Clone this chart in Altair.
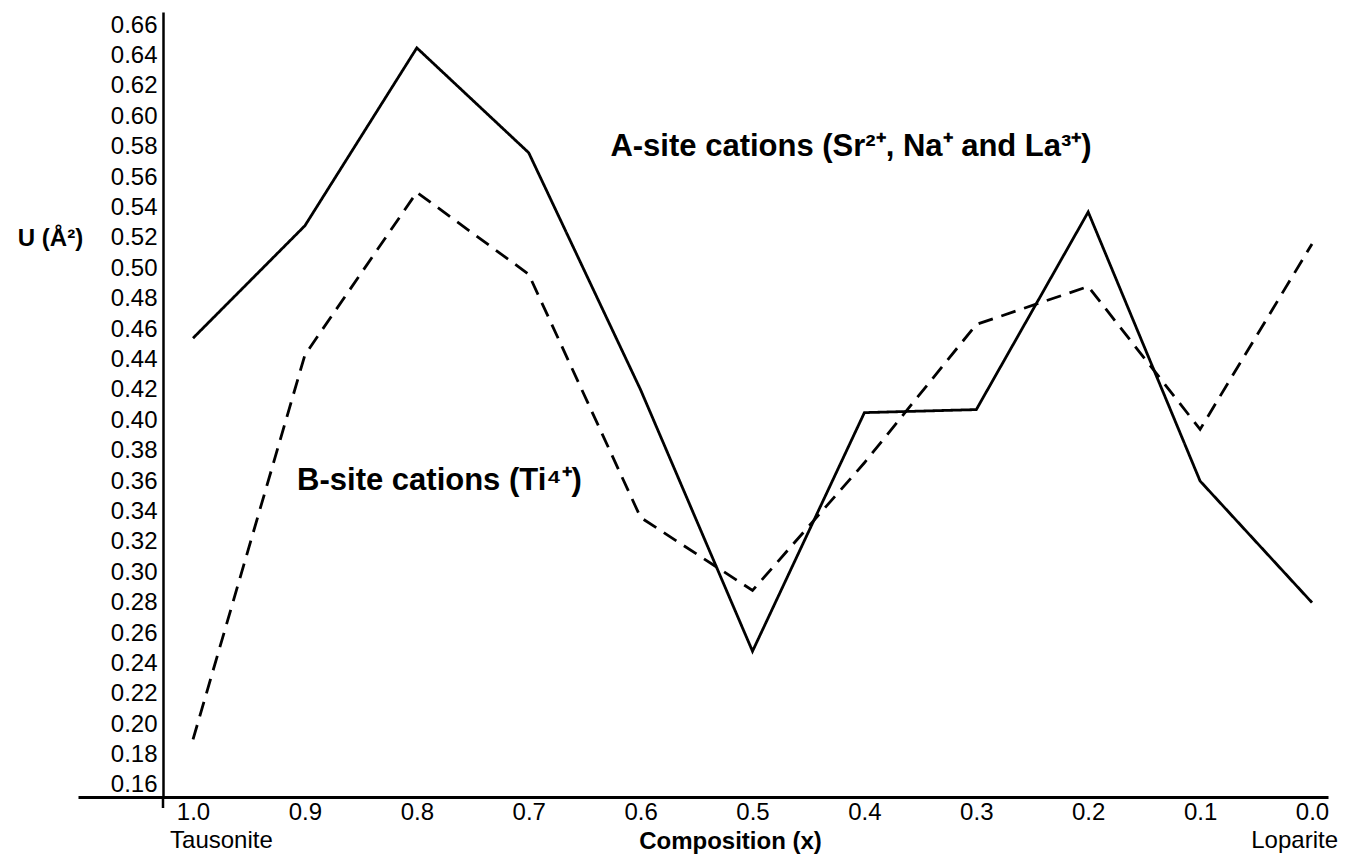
import altair as alt
import pandas as pd

# ---- data ----
composition = [1.0, 0.9, 0.8, 0.7, 0.6, 0.5, 0.4, 0.3, 0.2, 0.1, 0.0]
a_site = [0.454, 0.528, 0.645, 0.576, 0.420, 0.248, 0.405, 0.407, 0.537, 0.360, 0.280]
b_site = [0.190, 0.443, 0.550, 0.496, 0.336, 0.288, 0.372, 0.463, 0.488, 0.394, 0.516]
series_names = ["A-site cations", "B-site cations"]
y_ticks = [0.16, 0.18, 0.20, 0.22, 0.24, 0.26, 0.28, 0.30, 0.32, 0.34, 0.36, 0.38,
           0.40, 0.42, 0.44, 0.46, 0.48, 0.50, 0.52, 0.54, 0.56, 0.58, 0.60, 0.62,
           0.64, 0.66]
ann_text = ["A-site cations (Sr\u00b2\u207a, Na\u207a and La\u00b3\u207a)",
            "B-site cations (Ti\u2074\u207a)"]
ann_x = [0.627, 0.907]
ann_y = [0.58, 0.36]
end_labels = ["Tausonite", "Loparite"]
end_x = [1.0, 0.0]

FONT = "Liberation Sans"
W, H = 1250, 785

df = pd.DataFrame({
    "x": composition + composition,
    "u": a_site + b_site,
    "series": [series_names[0]] * len(composition) + [series_names[1]] * len(composition),
})
ann = pd.DataFrame({"x": ann_x, "y": ann_y, "t": ann_text})
ends_l = pd.DataFrame({"x": [end_x[0]], "t": [end_labels[0]]})
ends_r = pd.DataFrame({"x": [end_x[1]], "t": [end_labels[1]]})

x_scale = alt.Scale(domain=[-0.0143, 1.1028], reverse=True, nice=False, zero=False)
y_scale = alt.Scale(domain=[0.1521, 0.6686], nice=False, zero=False)

x_axis = alt.Axis(values=composition, format=".1f", ticks=False, grid=False,
                  domainColor="black", domainWidth=3, labelColor="black",
                  labelFont=FONT, labelFontSize=24, labelPadding=3,
                  labelFlush=False, labelOverlap=False,
                  title="Composition (x)", titleFont=FONT, titleFontSize=24,
                  titleFontWeight="bold", titleColor="black",
                  titleX=652, titleY=44, titleAlign="center", titleBaseline="middle")
y_axis = alt.Axis(values=y_ticks, format=".2f", ticks=False, grid=False, offset=-85,
                  domainColor="black", domainWidth=2.5, labelColor="black",
                  labelFont=FONT, labelFontSize=24, labelPadding=6,
                  labelOverlap=False, labelFlush=False, labelBound=False,
                  title="U (\u00c5\u00b2)", titleFont=FONT, titleFontSize=24,
                  titleFontWeight="bold", titleColor="black", titleAngle=0,
                  titleX=-113, titleY=226, titleAlign="center", titleBaseline="middle")

X = alt.X("x:Q", scale=x_scale, axis=x_axis)

lines = alt.Chart(df).mark_line(color="black", strokeWidth=2.8).encode(
    x=X,
    y=alt.Y("u:Q", scale=y_scale, axis=y_axis),
    strokeDash=alt.StrokeDash("series:N", legend=None,
                              scale=alt.Scale(domain=series_names, range=[[1, 0], [15, 9]])),
    detail="series:N",
)

texts = alt.Chart(ann).mark_text(align="left", baseline="middle", font=FONT,
                                 fontSize=31, fontWeight="bold", color="black").encode(
    x=X,
    y=alt.Y("y:Q", scale=y_scale, axis=y_axis),
    text="t:N",
)

left_lbl = alt.Chart(ends_l).mark_text(align="left", baseline="middle", font=FONT,
                                       fontSize=24, color="black", dx=-23).encode(
    x=X, y=alt.value(H + 44), text="t:N")
right_lbl = alt.Chart(ends_r).mark_text(align="right", baseline="middle", font=FONT,
                                        fontSize=24, color="black", dx=26).encode(
    x=X, y=alt.value(H + 44), text="t:N")

yext = alt.Chart(ends_l).mark_rule(color="black", strokeWidth=2.5).encode(
    x=alt.value(85), y=alt.value(H), y2=alt.value(H + 11))

chart = alt.layer(lines, texts, left_lbl, right_lbl, yext).properties(
    width=W, height=H,
    autosize=alt.AutoSizeParams(type="none"),
    padding={"left": 70, "top": 4, "right": 10, "bottom": 60},
    background="white",
).configure_view(stroke=None)

chart.save("out.html", embed_options={"renderer": "svg", "actions": False})
